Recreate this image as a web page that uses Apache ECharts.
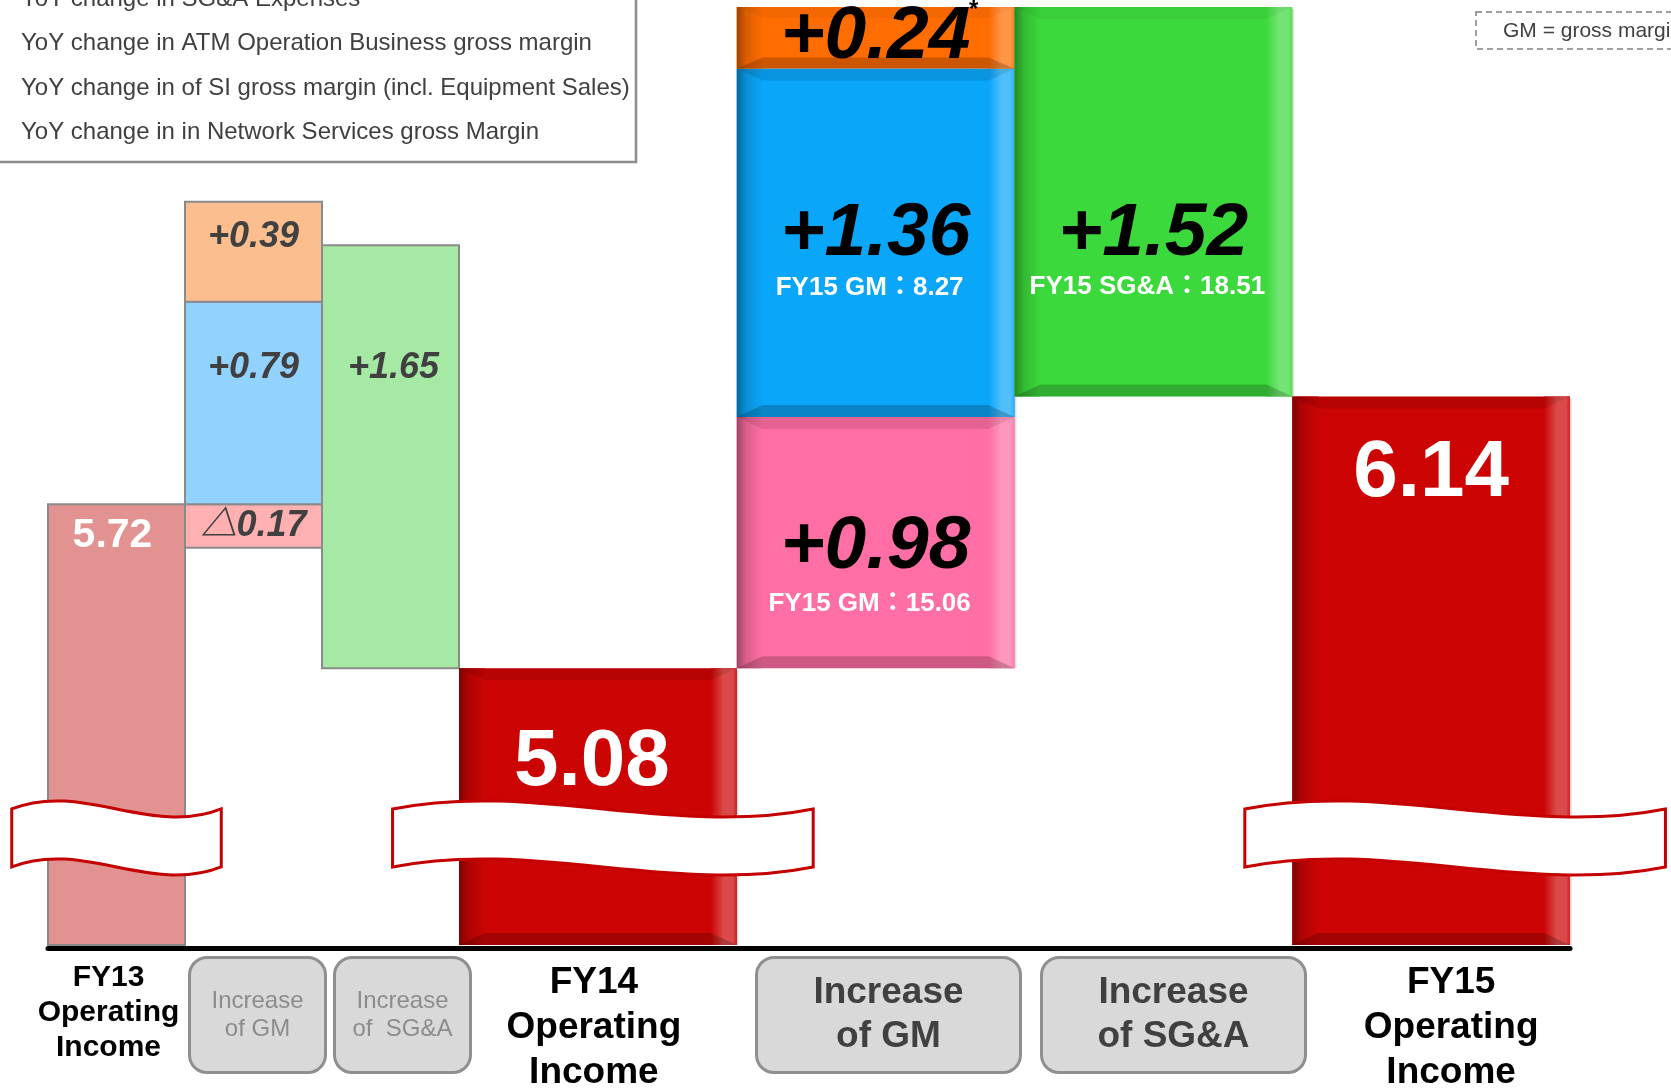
<!DOCTYPE html>
<html>
<head>
<meta charset="utf-8">
<script src="https://cdn.jsdelivr.net/npm/echarts@6/dist/echarts.min.js"></script>
<style>html,body{margin:0;padding:0;background:#fff}#c{width:1671px;height:1089px}</style>
</head>
<body>
<div id="c"></div>
<script>
// ---------------- data ----------------
const leftCategories = ['FY13\nOperating\nIncome', 'Increase\nof GM', 'Increase\nof  SG&A'];
const rightCategories = ['FY14\nOperating\nIncome', 'Increase\nof GM', 'Increase\nof SG&A', 'FY15\nOperating\nIncome'];
const legendLabels = [
  'YoY change in SG&A Expenses',
  'YoY change in ATM Operation Business gross margin',
  'YoY change in of SI gross margin (incl. Equipment Sales)',
  'YoY change in in Network Services gross Margin'
];
const operatingIncome = [5.72, 5.08, 6.14];   // FY13, FY14, FY15
const networkGM = [-0.17, 0.98];              // YoY change: FY14, FY15
const siGM = [0.79, 1.36];
const atmGM = [0.39, 0.24];
const sgaChange = [1.65, 1.52];               // increase of SG&A (reduces income)
const fy15NetworkGM = 15.06;
const fy15SIGM = 8.27;
const fy15SGA = 18.51;
const gmNote = 'GM = gross margin';

// ---------------- helpers ----------------
const FONT = '"Liberation Sans", Arial, "Noto Sans CJK JP", sans-serif';
const Y_MIN = 4, Y_MAX = 7.66;
const RIBBON_TOP = 4.562;

function fmt(v) { return (v < 0 ? '△' : '+') + Math.abs(v).toFixed(2); }
function hex2rgb(h) { h = h.replace('#', ''); return [0, 2, 4].map(i => parseInt(h.substr(i, 2), 16)); }
function mix(c1, c2, t) {
  const a = hex2rgb(c1), b = hex2rgb(c2);
  return 'rgb(' + a.map((v, i) => Math.round(v + (b[i] - v) * t)).join(',') + ')';
}

// build a GM column: negative pieces hang below the base, positive pieces stack upward
function gmColumn(cat, base, pieces) {
  let cur = base;
  return pieces.map(v => {
    if (v < 0) return [cat, base + v, base];
    const seg = [cat, cur, cur + v];
    cur += v;
    return seg;
  });
}
const gmTotalL = networkGM[0] + siGM[0] + atmGM[0];
const gmTotalR = networkGM[1] + siGM[1] + atmGM[1];
const leftGMcol = gmColumn(1, operatingIncome[0], [networkGM[0], siGM[0], atmGM[0]]);
const rightGMcol = gmColumn(1, operatingIncome[1], [networkGM[1], siGM[1], atmGM[1]]);
const leftSGAbar = [2, operatingIncome[0] + gmTotalL, operatingIncome[0] + gmTotalL - sgaChange[0]];
const rightSGAbar = [2, operatingIncome[1] + gmTotalR, operatingIncome[1] + gmTotalR - sgaChange[1]];

function renderFactory(cfg) {
  return function (params, api) {
    const i = params.dataIndex;
    const cat = api.value(0), a = api.value(1), b = api.value(2);
    const lo = Math.max(Math.min(a, b), Y_MIN), hi = Math.max(a, b);
    const pLo = api.coord([cat, lo]), pHi = api.coord([cat, hi]);
    const bw = api.size([1, 0])[0];
    const x = pLo[0] - bw / 2, y = pHi[1], w = bw, h = pLo[1] - pHi[1];
    const cx = pLo[0];
    const kids = [];
    if (cfg.flat) {
      kids.push({ type: 'rect', shape: { x: x, y: y, width: w, height: h },
        style: { fill: cfg.color, stroke: '#8a8a8a', lineWidth: 2 } });
    } else {
      const base = cfg.color;
      const dark = mix(base, '#000000', 0.38), light = mix(base, '#ffffff', 0.28);
      kids.push({ type: 'rect', shape: { x: x, y: y, width: w, height: h }, style: { fill: base } });
      const e = Math.min(26, w * 0.1);
      const t = Math.min(12, h * 0.18);
      kids.push({ type: 'rect', shape: { x: x, y: y, width: e, height: h },
        style: { fill: new echarts.graphic.LinearGradient(0, 0, 1, 0, [
          { offset: 0, color: dark }, { offset: 0.35, color: mix(base, '#000000', 0.15) }, { offset: 1, color: base }]) } });
      kids.push({ type: 'rect', shape: { x: x + w - e, y: y, width: e, height: h },
        style: { fill: new echarts.graphic.LinearGradient(0, 0, 1, 0, [
          { offset: 0, color: base }, { offset: 0.5, color: light }, { offset: 0.85, color: light }, { offset: 1, color: mix(base, '#ffffff', 0.1) }]) } });
      kids.push({ type: 'polygon', shape: { points: [[x, y], [x + w, y], [x + w - e, y + t], [x + e, y + t]] },
        style: { fill: 'rgba(0,0,0,' + (cfg.topShade != null ? cfg.topShade : 0.1) + ')' } });
      kids.push({ type: 'polygon', shape: { points: [[x, y + h], [x + w, y + h], [x + w - e, y + h - t], [x + e, y + h - t]] },
        style: { fill: 'rgba(0,0,0,0.2)' } });
      kids.push({ type: 'line', shape: { x1: x + w + 1, y1: y + 2, x2: x + w + 1, y2: y + h },
        style: { stroke: 'rgba(0,0,0,0.12)', lineWidth: 2 } });
    }
    if (cfg.ribbon) {
      const yt = api.coord([cat, RIBBON_TOP])[1];
      const rc = cx + (cfg.ribbonDx ? cfg.ribbonDx[i] : 0);
      const ww = w * 1.5 + 4, xl = rc - ww / 2, xr = rc + ww / 2;
      const d = 'M' + xl + ',' + (yt + 8) +
        ' C' + (xl + ww / 3) + ',' + (yt - 20) + ' ' + (xl + 2 * ww / 3) + ',' + (yt + 36) + ' ' + xr + ',' + (yt + 8) +
        ' L' + xr + ',' + (yt + 66) +
        ' C' + (xl + 2 * ww / 3) + ',' + (yt + 94) + ' ' + (xl + ww / 3) + ',' + (yt + 38) + ' ' + xl + ',' + (yt + 66) + ' Z';
      kids.push({ type: 'path', shape: { pathData: d }, style: { fill: '#ffffff', stroke: '#c40000', lineWidth: 3 } });
    }
    const text = cfg.labels[i];
    if (text) {
      const dy = cfg.labelDy && cfg.labelDy[i] != null ? cfg.labelDy[i] : h / 2;
      const dx = cfg.labelDx ? cfg.labelDx[i] : 0;
      kids.push({ type: 'text', style: { text: text, x: cx + dx, y: y + dy, fill: cfg.labelColor,
        font: cfg.labelFont, align: 'center', verticalAlign: 'middle' } });
    }
    if (cfg.sub) {
      kids.push({ type: 'text', style: { text: cfg.sub, x: cx - 6, y: y + cfg.subDy, fill: '#ffffff',
        font: 'bold 26px ' + FONT, align: 'center', verticalAlign: 'middle' } });
    }
    if (cfg.star) {
      kids.push({ type: 'text', style: { text: '*', x: cx + 98, y: y - 9, fill: '#000',
        font: 'bold 24px ' + FONT, align: 'center', verticalAlign: 'top' } });
    }
    return { type: 'group', children: kids };
  };
}

function custom(name, gridIdx, data, cfg) {
  return { type: 'custom', name: name, xAxisIndex: gridIdx * 2, yAxisIndex: gridIdx,
    clip: false, renderItem: renderFactory(cfg), data: data, encode: { x: 0, y: [1, 2] } };
}

const smallLbl = { labelColor: '#404040', labelFont: 'italic bold 36px ' + FONT };
const bigLbl = { labelColor: '#000000', labelFont: 'italic bold 75px ' + FONT };

const series = [
  // left half: FY14 vs FY13
  custom('FY13 Operating Income', 0, [[0, 0, operatingIncome[0]]],
    { flat: true, color: '#e39292', ribbon: true, labels: [operatingIncome[0].toFixed(2)], labelDy: [31], labelDx: [-4],
      labelColor: '#ffffff', labelFont: 'bold 41px ' + FONT }),
  custom(legendLabels[3], 0, [leftGMcol[0]], Object.assign({ flat: true, color: '#ffb1b1', labels: [fmt(networkGM[0])] }, smallLbl)),
  custom(legendLabels[2], 0, [leftGMcol[1]], Object.assign({ flat: true, color: '#92d2fe', labels: [fmt(siGM[0])], labelDy: [66] }, smallLbl)),
  custom(legendLabels[1], 0, [leftGMcol[2]], Object.assign({ flat: true, color: '#fdbe8f', labels: [fmt(atmGM[0])], labelDy: [35] }, smallLbl)),
  custom(legendLabels[0], 0, [leftSGAbar], Object.assign({ flat: true, color: '#a6e9a4', labels: [fmt(sgaChange[0])], labelDy: [123], labelDx: [3] }, smallLbl)),
  // right half: FY15 vs FY14
  custom(legendLabels[3], 1, [rightGMcol[0]], Object.assign({ color: '#ff6ea4', labels: [fmt(networkGM[1])], labelDy: [130],
    sub: 'FY15 GM：' + fy15NetworkGM.toFixed(2), subDy: 187 }, bigLbl)),
  custom(legendLabels[2], 1, [rightGMcol[1]], Object.assign({ color: '#0aa6f9', labels: [fmt(siGM[1])], labelDy: [166],
    sub: 'FY15 GM：' + fy15SIGM.toFixed(2), subDy: 219 }, bigLbl)),
  custom(legendLabels[1], 1, [rightGMcol[2]], Object.assign({ color: '#ff6c00', labels: [fmt(atmGM[1])], star: true, topShade: 0.04 }, bigLbl)),
  custom(legendLabels[0], 1, [rightSGAbar], Object.assign({ color: '#3cd93c', labels: [fmt(sgaChange[1])], labelDy: [227],
    sub: 'FY15 SG&A：' + fy15SGA.toFixed(2), subDy: 280, topShade: 0.04 }, bigLbl)),
  custom('Operating Income', 1, [[0, 0, operatingIncome[1]], [3, 0, operatingIncome[2]]],
    { color: '#cc0404', ribbon: true, ribbonDx: [5, 24], labels: [operatingIncome[1].toFixed(2), operatingIncome[2].toFixed(2)],
      labelDy: [95, 77], labelDx: [-6, 0], labelColor: '#ffffff', labelFont: 'bold 80px ' + FONT })
];

const plainAxisLine = { show: true, lineStyle: { color: '#000000', width: 5 } };
function xAxis(gridIndex, data, lineShow, label) {
  return { type: 'category', gridIndex: gridIndex, data: data, position: 'bottom', offset: 3,
    axisLine: lineShow ? plainAxisLine : { show: false }, axisTick: { show: false },
    splitLine: { show: false }, axisLabel: Object.assign({ fontFamily: FONT }, label) };
}
function hiddenY(gridIndex) {
  return { type: 'value', gridIndex: gridIndex, min: Y_MIN, max: Y_MAX, show: false, splitLine: { show: false } };
}

const option = {
  animation: false,
  backgroundColor: '#ffffff',
  grid: [
    { left: 48, width: 411, top: 7, bottom: 144, outerBoundsMode: 'none', containLabel: false },
    { left: 459, width: 1111, top: 7, bottom: 144, outerBoundsMode: 'none', containLabel: false },
    // label-only grids for the rounded category boxes
    { left: 40, width: 435, top: 7, bottom: 144, outerBoundsMode: 'none', containLabel: false },
    { left: 461, width: 1140, top: 7, bottom: 144, outerBoundsMode: 'none', containLabel: false }
  ],
  xAxis: [
    xAxis(0, leftCategories, true, { interval: (i) => i === 0, margin: 12,
      formatter: (v) => '{a|' + v + '}',
      rich: { a: { color: '#000', fontWeight: 'bold', fontFamily: FONT, fontSize: 30, lineHeight: 35, padding: [0, 16, 0, 0] } } }),
    xAxis(2, leftCategories, false, { interval: (i) => i > 0, margin: 11, color: '#8c8c8c', fontSize: 24,
      lineHeight: 28, backgroundColor: '#d9d9d9', borderColor: '#8f8f8f', borderWidth: 3, borderRadius: 16,
      width: 133, padding: [28, 0, 28, 0] }),
    xAxis(1, rightCategories, true, { interval: (i) => i === 0 || i === 3, margin: 12,
      formatter: (v, i) => (i === 3 ? '{r|' : '{a|') + v + '}',
      rich: {
        a: { color: '#000', fontWeight: 'bold', fontFamily: FONT, fontSize: 37, lineHeight: 45, padding: [0, 8, 0, 0] },
        r: { color: '#000', fontWeight: 'bold', fontFamily: FONT, fontSize: 37, lineHeight: 45, padding: [0, 0, 0, 40] }
      } }),
    xAxis(3, rightCategories, false, { interval: (i) => i === 1 || i === 2, margin: 11, color: '#404040', fontWeight: 'bold',
      fontSize: 37, lineHeight: 44, backgroundColor: '#d9d9d9', borderColor: '#8f8f8f', borderWidth: 3, borderRadius: 16,
      width: 261, padding: [12, 0, 12, 0] })
  ],
  yAxis: [hiddenY(0), hiddenY(1), hiddenY(2), hiddenY(3)],
  series: series,
  graphic: [
    { type: 'rect', z: 100, shape: { x: -3, y: -3, width: 639, height: 165 },
      style: { fill: '#ffffff', stroke: '#8c8c8c', lineWidth: 2.5 } }
  ].concat(legendLabels.map((t, k) => ({
    type: 'text', z: 101, x: 21, y: -1 + k * 44.5,
    style: { text: t, font: '24px ' + FONT, fill: '#404040', verticalAlign: 'middle' }
  }))).concat([
    { type: 'rect', z: 100, shape: { x: 1476, y: 12, width: 260, height: 37 },
      style: { fill: '#ffffff', stroke: '#808080', lineWidth: 1.5, lineDash: [6, 4] } },
    { type: 'text', z: 101, x: 1503, y: 31,
      style: { text: gmNote, font: '21px ' + FONT, fill: '#404040', verticalAlign: 'middle' } }
  ])
};

const chart = echarts.init(document.getElementById('c'), null, { renderer: 'canvas' });
chart.setOption(option);
</script>
</body>
</html>
